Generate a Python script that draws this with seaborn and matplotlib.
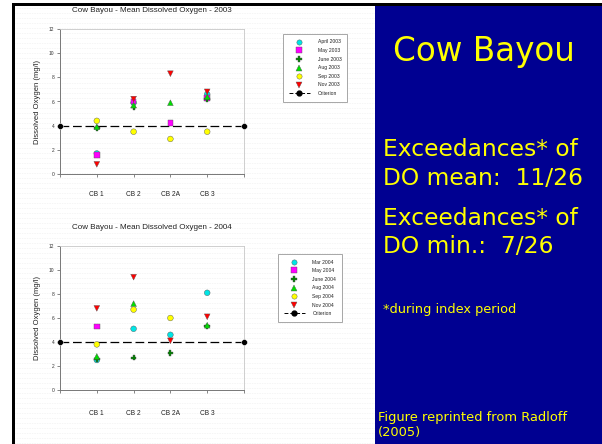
import numpy as np
import pandas as pd
import matplotlib
matplotlib.use("Agg")
import matplotlib.pyplot as plt
from matplotlib.lines import Line2D
from matplotlib.patches import Rectangle
import seaborn as sns

sns.set_theme(style="white")
plt.rcParams["font.family"] = ["Liberation Sans", "DejaVu Sans"]

# ---- data -------------------------------------------------------------
sites = ["CB 1", "CB 2", "CB 2A", "CB 3"]
criterion = 4.0

months_2003 = ["April 2003", "May 2003", "June 2003", "Aug 2003", "Sep 2003", "Nov 2003"]
apr_2003 = [1.7, 5.9, np.nan, 6.6]
may_2003 = [1.6, 6.0, 4.2, 6.3]
jun_2003 = [3.8, 5.5, np.nan, 6.2]
aug_2003 = [3.9, 5.7, 5.9, 6.4]
sep_2003 = [4.4, 3.5, 2.9, 3.5]
nov_2003 = [0.8, 6.2, 8.3, 6.8]

months_2004 = ["Mar 2004", "May 2004", "June 2004", "Aug 2004", "Sep 2004", "Nov 2004"]
mar_2004 = [2.5, 5.1, 4.6, 8.1]
may_2004 = [5.3, np.nan, np.nan, np.nan]
jun_2004 = [2.6, 2.7, 3.1, 5.3]
aug_2004 = [2.8, 7.2, np.nan, 5.4]
sep_2004 = [3.8, 6.7, 6.0, np.nan]
nov_2004 = [6.8, 9.4, 4.1, 6.1]

series_2003 = [apr_2003, may_2003, jun_2003, aug_2003, sep_2003, nov_2003]
series_2004 = [mar_2004, may_2004, jun_2004, aug_2004, sep_2004, nov_2004]

# ---- styles -----------------------------------------------------------
colors = ["#00e5e5", "#ff00ff", "#008000", "#00dd00", "#ffff00", "#ff0000"]
markers = ["o", "s", "P", "^", "o", "v"]

W, H = 602, 444
fig = plt.figure(figsize=(W / 100, H / 100), dpi=100)
fig.patch.set_facecolor("white")


def frac(left, top, right, bottom):
    return [left / W, 1 - bottom / H, (right - left) / W, (bottom - top) / H]


# faint dotted texture on the white area
for yy in np.arange(8, H, 5):
    fig.add_artist(Line2D([15 / W, 375 / W], [1 - yy / H] * 2, transform=fig.transFigure,
                          color="#e0e0e0", lw=0.4, ls=(0, (1, 2)), zorder=0))

# blue panel and black borders
fig.add_artist(Rectangle((375 / W, 0), 1 - 375 / W, 1 - 5 / H, transform=fig.transFigure,
                         facecolor="#000091", edgecolor="none", zorder=1))
fig.add_artist(Rectangle((12 / W, 1 - 6 / H), 1 - 12 / W, 3 / H, transform=fig.transFigure,
                         facecolor="black", edgecolor="none", zorder=2))
fig.add_artist(Rectangle((12 / W, 0), 3 / W, 1 - 3 / H, transform=fig.transFigure,
                         facecolor="black", edgecolor="none", zorder=2))


def draw_chart(rect, title, labels, series, legend_anchor, title_y, xlab_pad):
    ax = fig.add_axes(frac(*rect))
    ax.set_facecolor("none")
    rows = []
    for lab, vals in zip(labels, series):
        for i, v in enumerate(vals):
            if not np.isnan(v):
                rows.append({"site": i + 1, "DO": v, "month": lab})
    df = pd.DataFrame(rows)
    sns.scatterplot(data=df, x="site", y="DO", hue="month", style="month",
                    hue_order=labels, style_order=labels,
                    palette=dict(zip(labels, colors)),
                    markers=dict(zip(labels, markers)),
                    s=17, edgecolor="#555555", linewidth=0.3, ax=ax, legend=False,
                    zorder=3)
    crit = pd.DataFrame({"x": [0, 5], "y": [criterion, criterion]})
    sns.lineplot(data=crit, x="x", y="y", color="black", lw=0.9,
                 dashes=False, ax=ax, zorder=2)
    ax.lines[-1].set_linestyle((0, (7, 3)))
    sns.scatterplot(data=crit, x="x", y="y", color="black", s=18, ax=ax,
                    legend=False, zorder=4, clip_on=False)

    ax.set_xlim(0, 5)
    ax.set_ylim(0, 12)
    ax.set_xticks(range(0, 6))
    ax.set_xticklabels([""] + sites + [""], fontsize=4.8, color="#222222")
    ax.set_yticks(range(0, 13, 2))
    ax.set_yticklabels([str(v) for v in range(0, 13, 2)], fontsize=3.5, color="#333333")
    ax.tick_params(axis="x", length=2.5, width=0.5, pad=xlab_pad, colors="#555555",
                   labelcolor="#222222")
    ax.tick_params(axis="y", length=2, width=0.5, pad=2, colors="#555555",
                   labelcolor="#333333", left=True)
    ax.tick_params(axis="x", bottom=True)
    ax.set_xlabel("")
    ax.set_ylabel("Dissolved Oxygen (mg/l)", fontsize=5.5, color="#222222", labelpad=6)
    for side in ["top", "right"]:
        ax.spines[side].set_color("#c8c8c8")
        ax.spines[side].set_linewidth(0.6)
    for side in ["left", "bottom"]:
        ax.spines[side].set_color("#777777")
        ax.spines[side].set_linewidth(0.7)
    fig.text(152 / W, 1 - title_y / H, title, ha="center", va="center",
             fontsize=5.8, color="#222222")

    handles = [Line2D([], [], ls="none", marker=m, color=c, markeredgecolor="#555555",
                      markeredgewidth=0.3, markersize=3.8)
               for m, c in zip(markers, colors)]
    handles.append(Line2D([], [], ls=(0, (4, 2)), lw=0.7, color="black", marker="o",
                          markersize=3.5))
    leg = fig.legend(handles, labels + ["Criterion"], loc="upper left",
                     bbox_to_anchor=(legend_anchor[0] / W, 1 - legend_anchor[1] / H),
                     fontsize=3.6, frameon=True, fancybox=False, shadow=False,
                     edgecolor="#999999", facecolor="white", framealpha=1,
                     handlelength=4.2, handletextpad=1.6, labelspacing=0.72,
                     borderpad=1.1, borderaxespad=0)
    leg.get_frame().set_linewidth(0.6)
    for t in leg.get_texts():
        t.set_color("#222222")
    return ax


draw_chart((60, 29, 244, 174), "Cow Bayou - Mean Dissolved Oxygen - 2003",
           months_2003, series_2003, (283, 34), 11, 10)
draw_chart((60, 246, 244, 390), "Cow Bayou - Mean Dissolved Oxygen - 2004",
           months_2004, series_2004, (278, 254), 227, 12)

# text on the blue panel
yellow = "#ffff00"
slide_font = ["DejaVu Sans"]
fig.text(484 / W, 1 - 52 / H, "Cow Bayou", ha="center", va="center",
         fontsize=23.5, color=yellow, family=slide_font)
fig.text(383 / W, 1 - 150 / H, "Exceedances* of", ha="left", va="center",
         fontsize=16.8, color=yellow, family=slide_font)
fig.text(383 / W, 1 - 178 / H, "DO mean:  11/26", ha="left", va="center",
         fontsize=16.8, color=yellow, family=slide_font)
fig.text(383 / W, 1 - 218 / H, "Exceedances* of", ha="left", va="center",
         fontsize=16.8, color=yellow, family=slide_font)
fig.text(383 / W, 1 - 246 / H, "DO min.:  7/26", ha="left", va="center",
         fontsize=16.8, color=yellow, family=slide_font)
fig.text(383 / W, 1 - 310 / H, "*during index period", ha="left", va="center",
         fontsize=9.3, color=yellow, family=slide_font)
fig.text(378 / W, 1 - 417 / H, "Figure reprinted from Radloff", ha="left", va="center",
         fontsize=9.4, color=yellow, family=slide_font)
fig.text(378 / W, 1 - 432 / H, "(2005)", ha="left", va="center",
         fontsize=9.4, color=yellow, family=slide_font)

fig.savefig("out.png", dpi=100)
